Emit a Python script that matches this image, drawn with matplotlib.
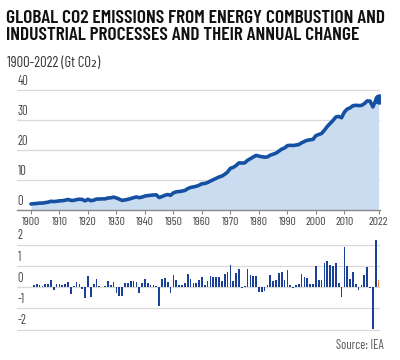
import matplotlib
matplotlib.use("Agg")
import matplotlib.pyplot as plt

plt.rcParams['font.family'] = ['Barlow Condensed', 'DejaVu Sans']

years = list(range(1900, 2023))

# Gt CO2
emissions = [
    2.0, 2.1, 2.15, 2.3, 2.3, 2.45, 2.6, 2.9, 2.8, 2.9,
    3.05, 3.1, 3.25, 3.5, 3.2, 3.2, 3.45, 3.6, 3.5, 3.05,
    3.55, 3.1, 3.25, 3.65, 3.65, 3.7, 3.7, 4.0, 4.05, 4.3,
    4.0, 3.6, 3.2, 3.35, 3.55, 3.8, 4.1, 4.35, 4.1, 4.3,
    4.65, 4.8, 4.9, 5.0, 5.05, 4.15, 4.5, 4.9, 5.15, 4.9,
    5.7, 6.05, 6.15, 6.3, 6.5, 7.1, 7.5, 7.7, 7.9, 8.25,
    8.75, 8.85, 9.15, 9.65, 10.1, 10.55, 11.0, 11.3, 11.9, 12.65,
    13.9, 14.2, 14.85, 15.7, 15.65, 15.7, 16.55, 17.1, 17.65, 18.2,
    17.95, 17.75, 17.6, 17.7, 18.3, 18.6, 18.95, 19.6, 20.3, 20.65,
    21.45, 21.55, 21.5, 21.65, 21.8, 22.4, 22.85, 23.25, 23.4, 23.55,
    24.8, 25.15, 25.5, 26.6, 27.85, 28.85, 29.85, 31.0, 31.2, 30.75,
    32.65, 33.65, 34.05, 34.75, 34.9, 34.8, 34.85, 35.45, 36.35, 36.3,
    34.35, 36.55, 36.85,
]

change_years = list(range(1901, 2023))
# annual change, Gt CO2
changes = [
    0.1, 0.12, 0.1, 0.05, 0.15, 0.15, 0.35, -0.13, 0.12,
    0.15, 0.1, 0.15, 0.25, -0.33, 0.05, 0.25, 0.15, -0.1, -0.5,
    0.5, -0.45, 0.15, 0.4, 0.03, 0.02, 0.05, 0.3, 0.1, 0.25,
    -0.28, -0.43, -0.43, 0.18, 0.2, 0.3, 0.3, 0.26, -0.28, 0.18,
    0.37, 0.18, 0.1, 0.1, 0.03, -0.9, 0.37, 0.42, 0.26, -0.28,
    0.57, 0.34, 0.1, 0.1, 0.18, 0.6, 0.38, 0.2, 0.18, 0.34,
    0.45, 0.1, 0.3, 0.5, 0.45, 0.45, 0.45, 0.27, 0.6, 0.73,
    1.05, 0.27, 0.65, 0.84, -0.05, 0.06, 0.84, 0.55, 0.53, 0.53,
    -0.22, -0.22, -0.17, 0.1, 0.58, 0.3, 0.34, 0.65, 0.69, 0.34,
    0.8, 0.1, -0.03, 0.1, 0.15, 0.6, 0.45, 0.42, 0.15, 0.15,
    0.97, 0.34, 0.34, 1.12, 1.23, 1.03, 1.0, 1.15, 0.2, -0.45,
    1.9, 1.0, 0.4, 0.7, 0.15, -0.12, 0.08, 0.58, 0.92, -0.06,
    -1.97, 2.19, 0.31,
]

xticks = [1900, 1910, 1920, 1930, 1940, 1950, 1960, 1970, 1980, 1990, 2000, 2010, 2022]
yticks_top = [0, 10, 20, 30, 40]
yticks_bot = [-2, -1, 0, 1, 2]

line_c = '#1550a3'
fill_c = '#cadcef'
bar_c = '#1a4196'
grid_c = '#d9d9d9'
lab_c = '#444444'
xlim = (1895.1, 2022.5)

fig = plt.figure(figsize=(4, 3.6), dpi=100)
fig.patch.set_facecolor('white')

fig.text(0.016, 0.973, "GLOBAL CO2 EMISSIONS FROM ENERGY COMBUSTION AND\nINDUSTRIAL PROCESSES AND THEIR ANNUAL CHANGE",
         ha='left', va='top', fontsize=14, fontweight='semibold', color='#111111', linespacing=1.0)
fig.text(0.018, 0.845, "1900-2022 (Gt CO\u2082)", ha='left', va='top', fontsize=10.5, color='#333333')

# top: emissions
ax1 = fig.add_axes([0.0425, 0.4167, 0.9075, 0.35])
ax1.fill_between(years, emissions, 0, color=fill_c, lw=0)
ax1.plot(years, emissions, color=line_c, lw=2.6, solid_capstyle='round')
ax1.plot(years[-1], emissions[-1], 'o', color=line_c, ms=6.5)
ax1.set_xlim(*xlim)
ax1.set_ylim(0, 42)
ax1.set_yticks(yticks_top)
ax1.yaxis.grid(True, color=grid_c, lw=0.9)
ax1.set_axisbelow(True)
ax1.tick_params(axis='y', length=0, labelleft=False)
for v in yticks_top:
    ax1.text(xlim[0] + 0.3, v + 0.8, str(v), ha='left', va='bottom', fontsize=9, color=lab_c)
ax1.set_xticks(xticks)
ax1.set_xticklabels([str(t) for t in xticks])
ax1.tick_params(axis='x', length=3, width=0.8, color='#888888', labelsize=8.5, labelcolor=lab_c, pad=2)
for s in ['top', 'right', 'left']:
    ax1.spines[s].set_visible(False)
ax1.spines['bottom'].set_color('#888888')
ax1.spines['bottom'].set_linewidth(1.0)

# bottom: annual change
ax2 = fig.add_axes([0.0425, 0.0728, 0.9075, 0.2716])
colors = [bar_c] * (len(changes) - 1) + ['#f08a32']
ax2.bar(change_years, changes, width=0.6, color=colors, lw=0)
ax2.set_xlim(*xlim)
ax2.set_ylim(-2.2, 2.4)
ax2.set_yticks(yticks_bot)
ax2.yaxis.grid(True, color=grid_c, lw=0.9)
ax2.set_axisbelow(True)
ax2.tick_params(axis='y', length=0, labelleft=False)
ax2.set_xticks([])
for v in yticks_bot:
    ax2.text(xlim[0] + 0.3, v + 0.1, str(v), ha='left', va='bottom', fontsize=9, color=lab_c)
for s in ['top', 'right', 'left', 'bottom']:
    ax2.spines[s].set_visible(False)

fig.text(0.96, 0.022, "Source: IEA", ha='right', va='bottom', fontsize=9, color='#555555')

fig.savefig('out.png', dpi=100, facecolor='white')
